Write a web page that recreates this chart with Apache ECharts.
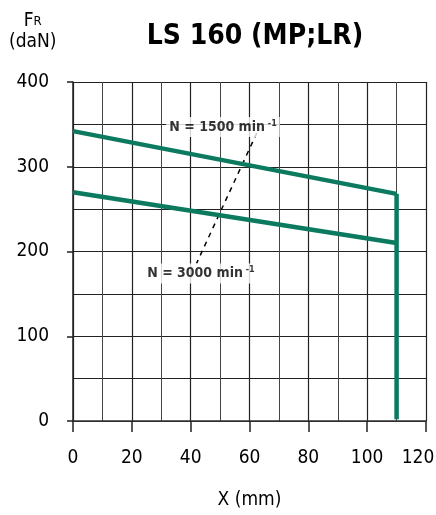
<!DOCTYPE html>
<html>
<head>
<meta charset="utf-8">
<script src="https://cdn.jsdelivr.net/npm/echarts@6/dist/echarts.min.js"></script>
<style>
  html, body { margin: 0; padding: 0; background: #fff; }
  #chart { width: 436px; height: 515px; }
</style>
</head>
<body>
<div id="chart"></div>
<script>
// courbes effort radial admissible
const xPoints = [0, 110];
const speed1500 = [342, 268];
const speed3000 = [270, 210];
const limitX = 110;
const limitY = [268, 2];
const leader = [[62.5, 340], [42, 186]];
const label1500 = [51, 347];
const label3000 = [43.5, 174];

const font = "'Liberation Sans Narrow', 'Arial Narrow', 'DejaVu Sans Condensed', sans-serif";
const green = '#0b7a5f';

const chart = echarts.init(document.getElementById('chart'));

const speedLabel = (txt) => ({
  show: true,
  position: 'inside',
  formatter: '{b|N = ' + txt + ' min}{s| -1}',
  backgroundColor: '#fff',
  padding: [2, 3],
  rich: {
    b: { fontFamily: font, fontWeight: 'bold', fontSize: 14, color: '#000' },
    s: { fontFamily: font, fontWeight: 'bold', fontSize: 9, color: '#000', verticalAlign: 'top', padding: [0, 0, 7, 0] }
  }
});

chart.setOption({
  animation: false,
  title: [{
    text: 'LS 160 (MP;LR)',
    left: 250,
    top: 18,
    textAlign: 'center',
    textStyle: { fontFamily: font, fontWeight: 'bold', fontSize: 28, color: '#000' }
  }, {
    text: '{a|F}{r|R}\n{a|(daN)}',
    left: 4,
    top: 6,
    textStyle: {
      fontWeight: 'normal',
      rich: {
        a: { fontFamily: font, fontWeight: 'normal', fontSize: 19, color: '#000', lineHeight: 21, align: 'center' },
        r: { fontFamily: font, fontWeight: 'normal', fontSize: 13, color: '#000', lineHeight: 21 }
      }
    }
  }],
  grid: { left: 73, right: 10, top: 82, bottom: 94, outerBoundsMode: 'none' },
  xAxis: {
    type: 'value',
    min: 0, max: 120, interval: 20,
    name: 'X (mm)',
    nameLocation: 'middle',
    nameGap: 70,
    nameTextStyle: { fontFamily: font, fontSize: 19, color: '#000' },
    axisLine: { show: true, lineStyle: { color: '#333', width: 1.5 } },
    axisTick: { show: true, length: 11, lineStyle: { color: '#222', width: 1.5 } },
    axisLabel: {
      fontFamily: font, fontSize: 19, color: '#000', margin: 28,
      formatter: v => v === 120 ? '{m|120}' : String(v),
      rich: { m: { fontFamily: font, fontSize: 19, color: '#000', padding: [0, 16, 0, 0] } }
    },
    splitLine: { show: true, lineStyle: { color: '#222', width: 1.2 } },
    minorTick: { show: false, splitNumber: 2 },
    minorSplitLine: { show: true, lineStyle: { color: '#444', width: 1 } }
  },
  yAxis: {
    type: 'value',
    min: 0, max: 400, interval: 100,
    axisLine: { show: true, lineStyle: { color: '#222', width: 1.5 } },
    axisTick: { show: true, length: 6, lineStyle: { color: '#222', width: 1.5 } },
    axisLabel: { fontFamily: font, fontSize: 19, color: '#000', margin: 24 },
    splitLine: { show: true, lineStyle: { color: '#222', width: 1.2 } },
    minorTick: { show: false, splitNumber: 2 },
    minorSplitLine: { show: true, lineStyle: { color: '#222', width: 1.2 } }
  },
  series: [{
    name: 'leader',
    type: 'line',
    data: leader,
    symbol: 'none',
    lineStyle: { color: '#000', width: 1.5, type: [5, 5] },
    z: 1
  }, {
    name: '1500',
    type: 'line',
    data: xPoints.map((x, i) => [x, speed1500[i]]),
    symbol: 'none',
    lineStyle: { color: green, width: 4.5 },
    z: 3
  }, {
    name: '3000',
    type: 'line',
    data: xPoints.map((x, i) => [x, speed3000[i]]),
    symbol: 'none',
    lineStyle: { color: green, width: 4.5 },
    z: 3
  }, {
    name: 'limite',
    type: 'line',
    data: limitY.map(y => [limitX, y]),
    symbol: 'none',
    lineStyle: { color: green, width: 4.5, cap: 'butt' },
    z: 3
  }, {
    name: 'labels',
    type: 'scatter',
    symbolSize: 0,
    itemStyle: { color: 'rgba(0,0,0,0)' },
    z: 5,
    data: [
      { value: label1500, label: speedLabel('1500') },
      { value: label3000, label: speedLabel('3000') }
    ]
  }]
});
</script>
</body>
</html>
